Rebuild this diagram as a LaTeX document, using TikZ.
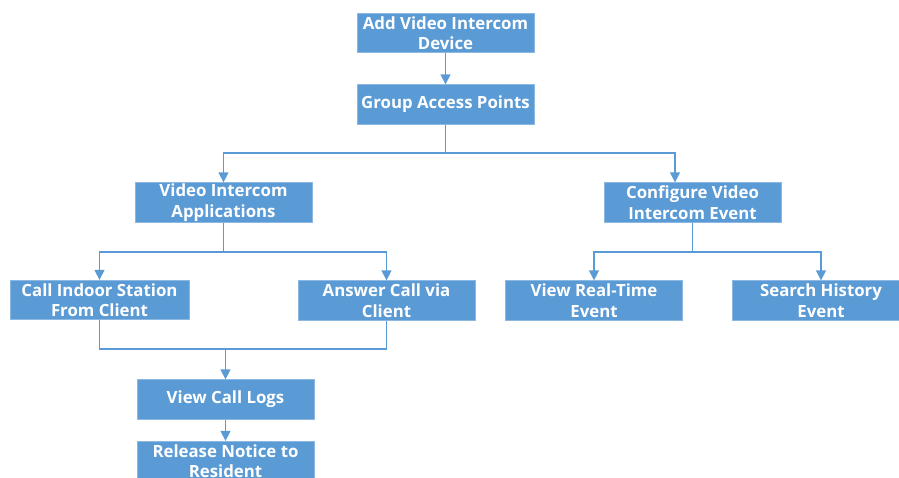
\documentclass[tikz,border=0pt]{standalone}
\usepackage{fontspec}
\setmainfont{Open Sans}
\usetikzlibrary{arrows.meta}
\definecolor{boxblue}{HTML}{5B9BD5}
\definecolor{edgeblue}{HTML}{8DB8E2}
\definecolor{lineblue}{HTML}{5B9BD5}
\tikzset{
  stepbox/.style={draw=edgeblue, line width=0.8pt, fill=boxblue, text=white,
    minimum width=177pt, minimum height=39.5pt, inner sep=0pt, align=center,
    font=\bfseries\fontsize{16.8}{20.5}\selectfont},
  conn/.style={draw=lineblue, line width=1.4pt},
  arr/.style={conn, -{Triangle[length=10pt,width=10pt]}}
}
\begin{document}
\begin{tikzpicture}[x=1pt,y=-1pt]
\useasboundingbox (0,0) rectangle (899,477);
\node[stepbox] (add) at (445.5,33) {Add Video Intercom\\Device};
\node[stepbox] (grp) at (445.5,104.5) {Group Access Points};
\node[stepbox] (via) at (223.5,202.5) {Video Intercom\\Applications};
\node[stepbox] (cfg) at (692.5,202.5) {Configure Video\\Intercom Event};
\node[stepbox, minimum width=179pt] (call) at (99.5,300) {Call Indoor Station\\From Client};
\node[stepbox] (ans) at (386.5,300.5) {Answer Call via\\Client};
\node[stepbox] (rt) at (594,300.5) {View Real-Time\\Event};
\node[stepbox, minimum width=178pt] (hist) at (821,300.5) {Search History\\Event};
\node[stepbox] (logs) at (225.5,399.5) {View Call Logs};
\node[stepbox] (rel) at (225.5,461) {Release Notice to\\Resident};
% connectors
\draw[arr] (add) -- (grp);
\coordinate (j1) at (445.5,153);
\draw[conn] (grp) -- (j1);
\draw[arr] (j1) -| (via.north);
\draw[arr] (j1) -| ([xshift=-17.5pt]cfg.north);
\coordinate (j2) at (223.5,252);
\draw[conn] (via) -- (j2);
\draw[arr] (j2) -| (call.north);
\draw[arr] (j2) -| (ans.north);
\coordinate (j3) at (692.5,252);
\draw[conn] (cfg) -- (j3);
\draw[arr] (j3) -| (rt.north);
\draw[arr] (j3) -| (hist.north);
\coordinate (j4) at (225.5,349);
\draw[conn] (call.south) |- (j4);
\draw[conn] (ans.south) |- (j4);
\draw[arr] (j4) -- (logs.north);
\draw[arr] (logs) -- (rel);
\end{tikzpicture}
\end{document}
